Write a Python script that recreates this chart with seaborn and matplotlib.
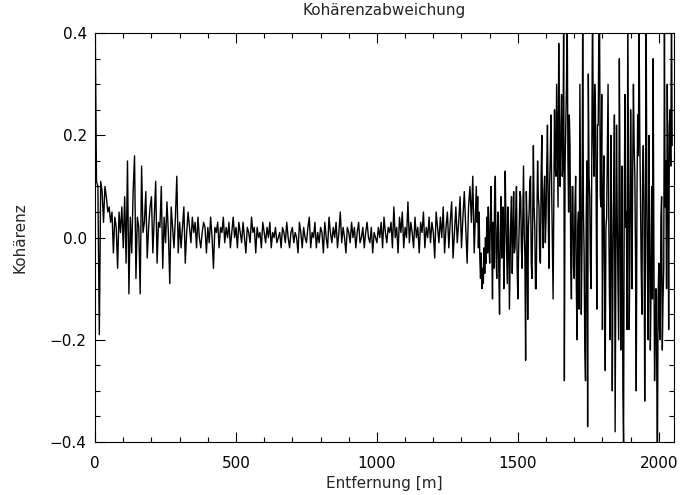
"""
Kohärenzabweichung entlang der Entfernung.
"""
import numpy as np
import pandas as pd
import matplotlib
matplotlib.use('Agg')
import matplotlib.pyplot as plt
import seaborn as sns
from matplotlib.ticker import MultipleLocator

# near range: 0 .. 1345 m every 5 m, far range: 1350 .. 2047.5 m every 2.5 m
NEAR_START, NEAR_STEP = 0, 5.0
FAR_START, FAR_STEP = 1350, 2.5

# coherence deviation in units of 0.01, one row = 50 m
NEAR_0000 = [45, 11, 10, -19, 11, 9, 3, 10, 8, 5]
NEAR_0050 = [6, 3, 5, -3, 4, 2, -6, 5, 1, 6]
NEAR_0100 = [-2, 8, -5, 15, -11, 4, -3, 9, 16, -8]
NEAR_0150 = [4, 2, -11, 14, 1, 3, 9, -4, 2, 6]
NEAR_0200 = [8, -3, 4, 11, -5, 3, 2, 10, -6, 4]
NEAR_0250 = [-1, 7, 1, -9, 6, 2, -2, 4, 12, -3]
NEAR_0300 = [3, -2, 2, 6, -5, 1, 5, 2, -1, 4]
NEAR_0350 = [1, 3, -2, 4, 0, -2, 1, 3, 2, -3]
NEAR_0400 = [2, -1, 4, 0, -6, 2, 1, 3, -2, 2]
NEAR_0450 = [1, 4, -1, 2, 0, 3, -2, 1, 4, 0]
NEAR_0500 = [2, -2, 3, 1, -1, 3, 0, -3, 2, 1]
NEAR_0550 = [-1, 4, 1, 2, -3, 2, 0, 1, -2, 3]
NEAR_0600 = [1, -1, 2, 0, 3, -2, 1, 0, 2, -1]
NEAR_0650 = [0, 1, -2, 2, 1, -1, 3, 0, -2, 1]
NEAR_0700 = [2, -1, 1, 0, -3, 3, 1, -2, 2, 0]
NEAR_0750 = [-1, 2, 4, -2, 1, 0, 3, -2, 1, -1]
NEAR_0800 = [2, 1, -3, 3, 0, -2, 4, 1, -1, 2]
NEAR_0850 = [0, 3, -2, 1, 5, -1, 2, 0, -3, 2]
NEAR_0900 = [1, -1, 3, 0, 2, -2, 1, 3, -1, 0]
NEAR_0950 = [2, -2, 1, 3, 0, -1, 2, -3, 1, 0]
NEAR_1000 = [-1, 2, 0, 3, -2, 4, 1, -1, 2, 1]
NEAR_1050 = [3, -2, 6, 0, 2, -3, 4, 1, 5, -2]
NEAR_1100 = [2, 0, 7, -1, 3, 1, -2, 4, 0, 2]
NEAR_1150 = [-3, 3, 1, 5, -2, 2, 0, 4, -1, 3]
NEAR_1200 = [1, -4, 5, 2, -1, 4, 0, 6, -3, 2]
NEAR_1250 = [5, -2, 3, 7, -4, 1, 6, -1, 3, 8]
NEAR_1300 = [-2, 4, 9, 2, -5, 6, 10, 3, 12, -3]

FAR_1350 = [6, 10, 3, 8, -2, 5, -4, -8, -3, -10, -6, -9, -2, -7, 0, -5, 4, -3, 6, -1]
FAR_1400 = [-5, 4, 10, -2, -12, 3, -6, 8, 12, -3, -8, 2, 5, -7, -15, 1, 8, -4, 2, 6]
FAR_1450 = [-10, -2, 13, 4, -3, -9, 6, 1, -14, -5, 4, 8, -7, 0, 9, -3, -2, 5, 10, -6]
FAR_1500 = [-12, -3, 3, 9, 8, -2, -6, 4, 14, 1, -4, -24, 9, 3, -16, 2, 5, 11, 12, -5]
FAR_1550 = [-8, 3, 18, 6, 2, -10, -10, 4, 15, 8, 6, -4, -5, 12, 20, 3, -2, 9, 12, -1]
FAR_1600 = [4, 14, 22, 6, -6, 10, 16, 24, 9, -2, -12, 8, 25, 14, 12, 30, 18, 6, 38, 15]
FAR_1650 = [10, 22, 28, 12, 15, 45, -28, 14, 22, 30, 45, 16, 5, 24, 18, -4, -12, 10, 10, -6]
FAR_1700 = [-8, 6, 12, -10, -20, 2, 5, -14, 30, 8, -15, -2, 45, 6, -3, -22, -28, 4, 15, -37]
FAR_1750 = [32, 12, 8, -6, -10, 18, 48, 20, 12, 30, 26, 10, -14, 22, 22, 42, 40, 8, 6, 28]
FAR_1800 = [-18, 6, 16, -8, -26, 2, 4, 18, 30, 4, -12, -20, 20, 6, -30, -4, 8, 24, -38, -6]
FAR_1850 = [22, 4, -8, -20, 35, 10, -22, -6, 14, -30, -40, 8, 28, 2, 5, -18, 45, 12, -18, -4]
FAR_1900 = [25, 10, -10, 14, 30, 18, 12, -4, -30, 8, 24, 16, 42, 20, 8, -6, -15, 12, 18, 6]
FAR_1950 = [-32, -4, 45, 10, -8, -20, 20, 2, -22, -10, 10, -12, 35, -2, -28, -16, -10, -24, -45, -12]
FAR_2000 = [-5, -18, -20, 4, 8, -22, -12, -6, 40, 6, 15, -10, 30, 12, -18, 22, 25, 14, 45, 18]

NEAR_ROWS = [NEAR_0000, NEAR_0050, NEAR_0100, NEAR_0150, NEAR_0200, NEAR_0250,
             NEAR_0300, NEAR_0350, NEAR_0400, NEAR_0450, NEAR_0500, NEAR_0550,
             NEAR_0600, NEAR_0650, NEAR_0700, NEAR_0750, NEAR_0800, NEAR_0850,
             NEAR_0900, NEAR_0950, NEAR_1000, NEAR_1050, NEAR_1100, NEAR_1150,
             NEAR_1200, NEAR_1250, NEAR_1300]
FAR_ROWS = [FAR_1350, FAR_1400, FAR_1450, FAR_1500, FAR_1550, FAR_1600, FAR_1650,
            FAR_1700, FAR_1750, FAR_1800, FAR_1850, FAR_1900, FAR_1950, FAR_2000]

Y_TICKS = [-0.4, -0.2, 0.0, 0.2, 0.4]
Y_TICKLABELS = ['\u22120.4', '\u22120.2', '0.0', '0.2', '0.4']

sns.set_style('ticks')
plt.rcParams['font.family'] = ['DejaVu Sans']
plt.rcParams['font.size'] = 11


def main():
    near = np.concatenate(NEAR_ROWS) / 100.0
    far = np.concatenate(FAR_ROWS) / 100.0
    dist = np.concatenate([NEAR_START + np.arange(len(near)) * NEAR_STEP,
                           FAR_START + np.arange(len(far)) * FAR_STEP])
    df = pd.DataFrame({'Entfernung': dist, 'Kohärenz': np.concatenate([near, far])})

    fig = plt.figure(figsize=(6.84, 4.95), dpi=100)
    ax = fig.add_axes([0.139, 0.107, 0.846, 0.826])

    sns.lineplot(data=df, x='Entfernung', y='Kohärenz', ax=ax,
                 color='black', linewidth=1.0, estimator=None)

    ax.set_xlim(0, 2053)
    ax.set_ylim(-0.4, 0.4)
    ax.set_yticks(Y_TICKS)
    ax.set_yticklabels(Y_TICKLABELS)
    ax.xaxis.set_major_locator(MultipleLocator(500))
    ax.xaxis.set_minor_locator(MultipleLocator(100))
    ax.yaxis.set_minor_locator(MultipleLocator(0.05))
    ax.tick_params(which='both', direction='in', top=True, right=True,
                   width=0.8, colors='black', labelsize=11)
    ax.tick_params(which='major', length=7)
    ax.tick_params(which='minor', length=3.5)
    ax.tick_params(axis='x', which='major', pad=10)
    ax.tick_params(axis='y', which='major', pad=6)
    for sp in ax.spines.values():
        sp.set_linewidth(0.8)
        sp.set_color('black')

    ax.set_title('Kohärenzabweichung', fontsize=11, pad=13)
    ax.set_xlabel('Entfernung [m]', fontsize=11, labelpad=4)
    ax.set_ylabel('Kohärenz', fontsize=11, labelpad=16)

    fig.savefig('out.png', dpi=100)
    plt.close(fig)


if __name__ == '__main__':
    main()
